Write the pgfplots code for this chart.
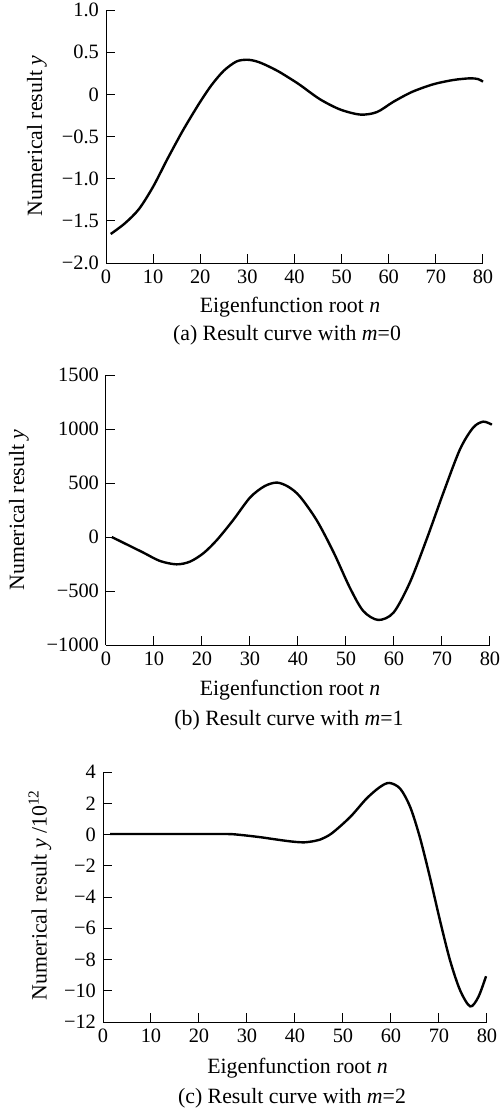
\documentclass[border=0pt]{standalone}
\usepackage{pgfplots}
\pgfplotsset{compat=1.18}
\usepackage{fontspec}
\setmainfont{Liberation Serif}
\newcommand{\fs}{\fontsize{10.2}{12}\selectfont}
\newcommand{\fl}{\fontsize{10.9}{13}\selectfont}
\pgfplotsset{
  myax/.style={
    scale only axis,
    axis x line*=bottom, axis y line*=left,
    xmin=0, xmax=80,
    xtick={0,10,...,80},
    xticklabels={0,10,20,30,40,50,60,70,80},
    tick align=inside,
    major tick length=4.5pt,
    tick style={line width=0.5pt, black},
    axis line style={line width=0.5pt},
    tick label style={font=\fs},
    clip=false,
  },
  crv/.style={black, line width=1.2pt, smooth, no markers},
}
\begin{document}
\begin{tikzpicture}
\useasboundingbox (0,0) rectangle (251.5pt,-557pt);
% (a)
\begin{axis}[myax, at={(53pt,-131.5pt)}, anchor=south west,
  width=188.5pt, height=126.5pt,
  ymin=-2, ymax=1,
  ytick={-2,-1.5,-1,-0.5,0,0.5,1},
  yticklabels={−2.0,−1.5,−1.0,−0.5,0,0.5,1.0}]
\addplot[crv] coordinates {
(1,-1.656)(4,-1.53)(7,-1.36)(10,-1.095)(13,-0.77)(16,-0.46)
(18,-0.27)(20,-0.088)(22.4,0.11)(25,0.28)(27.7,0.39)(30,0.41)(32,0.39)
(34,0.345)(36.5,0.275)(39,0.19)(41.2,0.11)(45.4,-0.058)(49.7,-0.18)(54,-0.24)
(57.5,-0.21)(61,-0.088)(65,0.03)(69.5,0.12)(73.7,0.17)(77.3,0.19)(79,0.18)(80,0.15)};
\end{axis}
\node[font=\fl] at (145pt,-153.5pt) {Eigenfunction root \textit{n}};
\node[font=\fl] at (143.5pt,-167.5pt) {(a) Result curve with \textit{m}=0};
\node[font=\fl, rotate=90] at (18.5pt,-68pt) {Numerical result \textit{y}};
% (b)
\begin{axis}[myax, at={(53pt,-322.5pt)}, anchor=south west,
  width=192pt, height=135pt,
  ymin=-1000, ymax=1500,
  ytick={-1000,-500,0,500,1000,1500},
  yticklabels={−1000,−500,0,500,1000,1500}]
\addplot[crv] coordinates {
(1.2,0)(4.3,-68)(7.8,-145)(11.25,-222)(14.7,-253)(17.5,-228)(20.3,-150)
(23.1,-28)(26.5,157)(30,365)(33,470)(35.6,504)(38,465)(40.4,375)(43.9,155)
(47.4,-140)(50.8,-469)(53.6,-685)(56.7,-768)(59.9,-700)(63.3,-422)(66.8,-21)
(70.3,411)(73.75,812)(76.5,1013)(78.6,1068)(80.4,1040)};
\end{axis}
\node[font=\fl] at (145pt,-345pt) {Eigenfunction root \textit{n}};
\node[font=\fl] at (144.5pt,-360pt) {(b) Result curve with \textit{m}=1};
\node[font=\fl, rotate=90] at (9.5pt,-255pt) {Numerical result \textit{y}};
% (c)
\begin{axis}[myax, at={(51.5pt,-511pt)}, anchor=south west,
  width=192pt, height=125pt,
  ymin=-12, ymax=4,
  ytick={-12,-10,...,4},
  yticklabels={−12,−10,−8,−6,−4,−2,0,2,4}]
\addplot[crv] coordinates {
(1.5,0.03)(5,0.03)(10,0.03)(15,0.03)(20,0.03)(25,0.03)(27,0.02)(30,-0.07)
(33,-0.18)(35,-0.27)(38,-0.40)(40,-0.47)(42,-0.50)(44,-0.42)(45.2,-0.33)
(47.6,0.06)(51.5,1.12)(54.9,2.3)(57.7,3.04)(59.65,3.30)(61.9,2.94)(64,1.76)
(66,-0.16)(68.1,-2.72)(70.2,-5.49)(72.3,-8.05)(74.4,-9.97)(76.5,-11.0)
(78.2,-10.4)(79.8,-9.07)};
\end{axis}
\node[font=\fl] at (148.75pt,-534pt) {Eigenfunction root \textit{n}};
\node[font=\fl] at (146pt,-549pt) {(c) Result curve with \textit{m}=2};
\node[font=\fl, rotate=90] at (20pt,-447.5pt) {Numerical result \textit{y} /10\textsuperscript{12}};
\end{tikzpicture}
\end{document}
